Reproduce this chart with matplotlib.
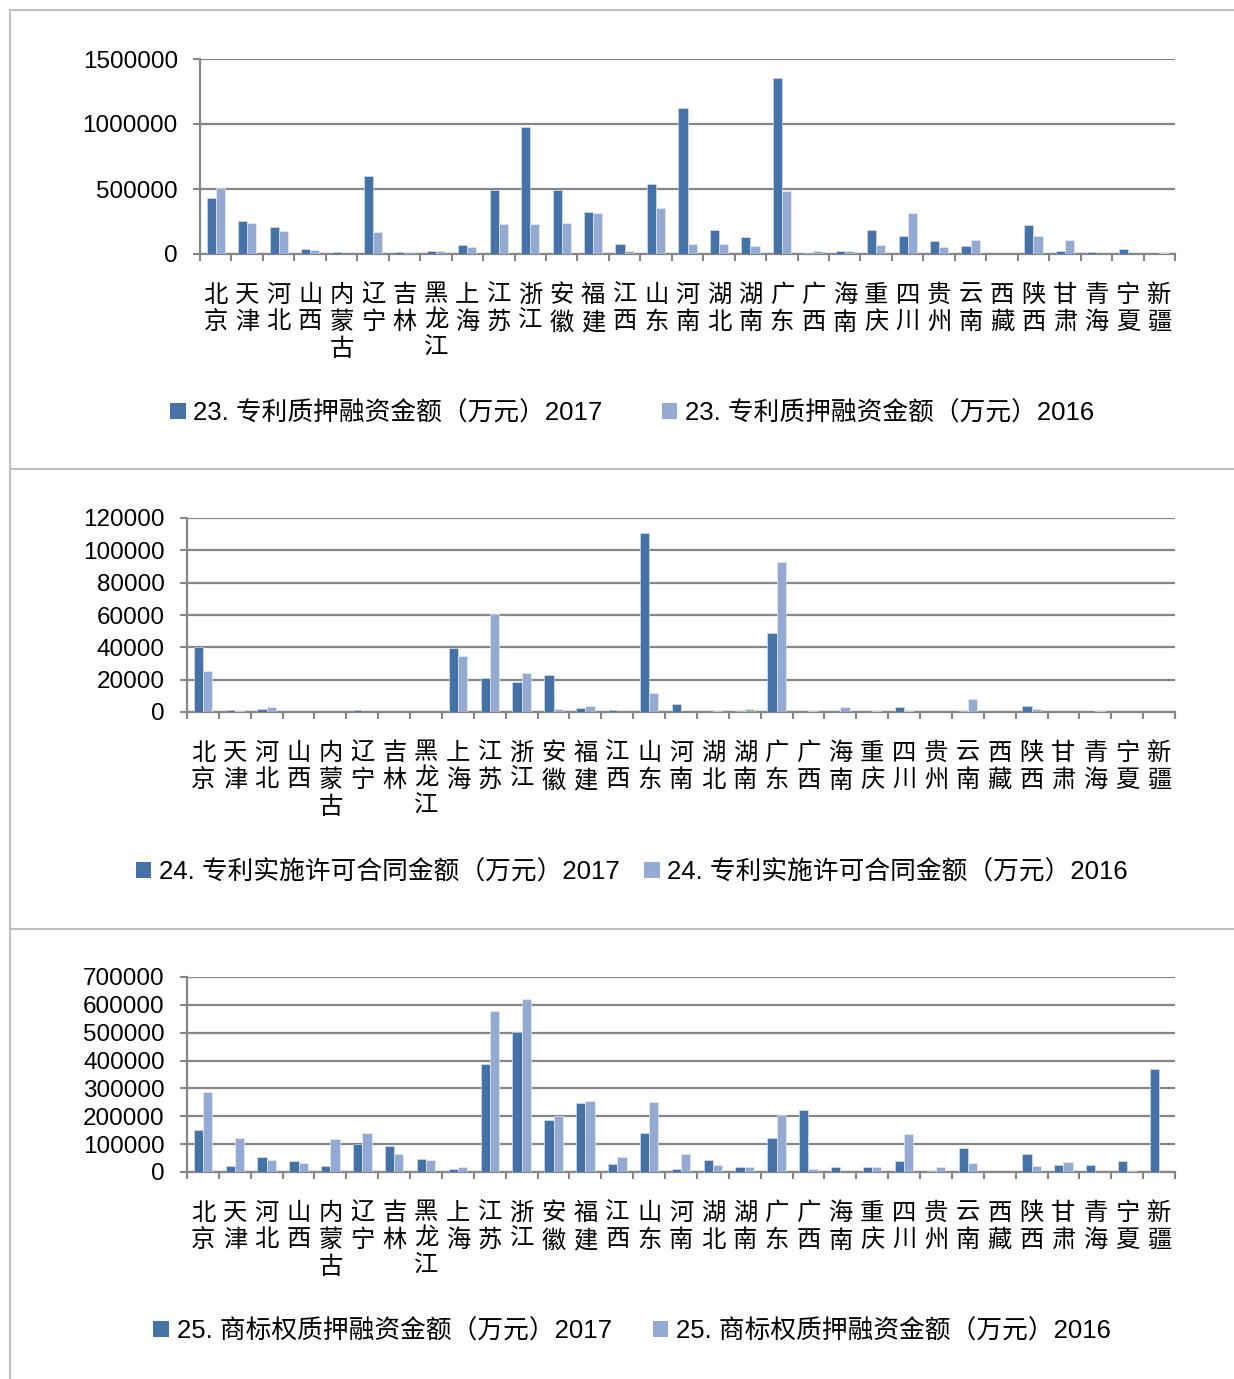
import numpy as np
import matplotlib
matplotlib.use("Agg")
import matplotlib.pyplot as plt
from matplotlib.patches import Patch
from matplotlib.lines import Line2D

plt.rcParams['font.family'] = ['Liberation Sans', 'Noto Sans CJK SC', 'DejaVu Sans']

# provinces
provinces = ["北京", "天津", "河北", "山西", "内蒙古", "辽宁", "吉林", "黑龙江", "上海", "江苏",
             "浙江", "安徽", "福建", "江西", "山东", "河南", "湖北", "湖南", "广东", "广西",
             "海南", "重庆", "四川", "贵州", "云南", "西藏", "陕西", "甘肃", "青海", "宁夏", "新疆"]

# 23. 专利质押融资金额（万元）
patent_pledge_2017 = [433000, 256000, 210000, 39000, 18000, 598000, 18000, 26000, 72000, 490000,
                      979000, 490000, 321000, 75000, 541000, 1124000, 184000, 127000, 1352000, 10000,
                      23000, 181000, 142000, 101000, 60000, 0, 220000, 26000, 13000, 36000, 0]
patent_pledge_2016 = [510000, 238000, 176000, 28000, 3000, 168000, 18000, 26000, 54000, 228000,
                      228000, 238000, 316000, 26000, 352000, 75000, 80000, 60000, 482000, 23000,
                      23000, 70000, 316000, 57000, 109000, 0, 137000, 111000, 0, 0, 8000]

# 24. 专利实施许可合同金额（万元）
license_2017 = [40200, 1200, 1900, 0, 0, 1200, 0, 0, 39800, 20800,
                18300, 22900, 2700, 1200, 110600, 4900, 0, 800, 48600, 0,
                0, 0, 3100, 0, 800, 0, 3700, 0, 0, 0, 0]
license_2016 = [25100, 400, 3100, 0, 0, 0, 0, 0, 34600, 60800,
                24100, 1600, 3900, 0, 11700, 0, 800, 2000, 92500, 400,
                3300, 800, 800, 0, 8200, 0, 2000, 0, 400, 0, 0]

# 25. 商标权质押融资金额（万元）
trademark_2017 = [149500, 22700, 53800, 39500, 22700, 101700, 92000, 46600, 10800, 386000,
                  502000, 186600, 247600, 29900, 141000, 12000, 44000, 19000, 121000, 222000,
                  19000, 19000, 38000, 5000, 85000, 0, 66000, 25000, 24000, 39500, 368000]
trademark_2016 = [288000, 122000, 43000, 32300, 118400, 140000, 64600, 41900, 17900, 579000,
                  622000, 202000, 254700, 52600, 252000, 65800, 25000, 16700, 206000, 12000,
                  0, 16700, 136000, 19000, 32000, 0, 22700, 34700, 0, 3600, 0]

panels = [
    ("23. 专利质押融资金额（万元）", patent_pledge_2017, patent_pledge_2016, 1500000, 500000),
    ("24. 专利实施许可合同金额（万元）", license_2017, license_2016, 120000, 20000),
    ("25. 商标权质押融资金额（万元）", trademark_2017, trademark_2016, 700000, 100000),
]

W, H = 1234, 1379
fig = plt.figure(figsize=(W / 100, H / 100), dpi=100)

dark = "#4572A7"
light = "#95AAD2"
grid_c = "#868686"

# axes boxes in pixels: left, right, top(max), bottom(0)
boxes = [(200, 1175, 59, 254), (187, 1175, 518, 712), (187, 1175, 977, 1172)]
legend_y = [413, 872, 1331]
col_space = [2.3, 0.95, 1.6]

x = np.arange(len(provinces))
bw = 0.29
for (title, v17, v16, ymax, step), (l, r, t, b), ly, cs in zip(panels, boxes, legend_y, col_space):
    ax = fig.add_axes([l / W, 1 - b / H, (r - l) / W, (b - t) / H])
    ax.bar(x - bw / 2, v17, bw, color=dark, edgecolor="#dfe6f1", linewidth=0.4, zorder=3)
    ax.bar(x + bw / 2, v16, bw, color=light, edgecolor="#eef2f8", linewidth=0.4, zorder=3)
    ax.set_xlim(-0.5, len(provinces) - 0.5)
    ax.set_ylim(0, ymax)
    ax.set_yticks(np.arange(0, ymax + 1, step))
    ax.set_yticklabels([str(int(v)) for v in np.arange(0, ymax + 1, step)])
    ax.yaxis.grid(True, color=grid_c, linewidth=1.6, zorder=0)
    ax.set_axisbelow(True)
    for s in ["top", "right"]:
        ax.spines[s].set_visible(False)
    for s in ["left", "bottom"]:
        ax.spines[s].set_color(grid_c)
        ax.spines[s].set_linewidth(1.6)
    ax.tick_params(axis="y", direction="out", length=5, width=1.5, color=grid_c,
                   labelsize=17.5, pad=11)
    ax.set_xticks(x)
    ax.set_xticklabels(["\n".join(p) for p in provinces], fontsize=17.5,
                       linespacing=1.27, va="top")
    ax.tick_params(axis="x", which="major", length=0, pad=22)
    ax.set_xticks(np.arange(-0.5, len(provinces)), minor=True)
    ax.tick_params(axis="x", which="minor", direction="out", length=5, width=1.5, color=grid_c)

    handles = [Patch(facecolor=dark), Patch(facecolor=light)]
    fig.legend(handles, [title + "2017", title + "2016"], loc="center",
               bbox_to_anchor=(632 / W, 1 - ly / H), ncol=2, frameon=False,
               fontsize=18.5, handlelength=0.6, handleheight=0.6,
               handletextpad=0.3, columnspacing=cs)

# panel frame lines
fc = "#C0C0C0"
fig.add_artist(Line2D([10 / W, 10 / W], [0, 1 - 10 / H], color=fc, linewidth=1.5))
for yy in [10, 469, 929]:
    fig.add_artist(Line2D([10 / W, 1], [1 - yy / H, 1 - yy / H], color=fc, linewidth=1.5))

fig.savefig("out.png", dpi=100)
